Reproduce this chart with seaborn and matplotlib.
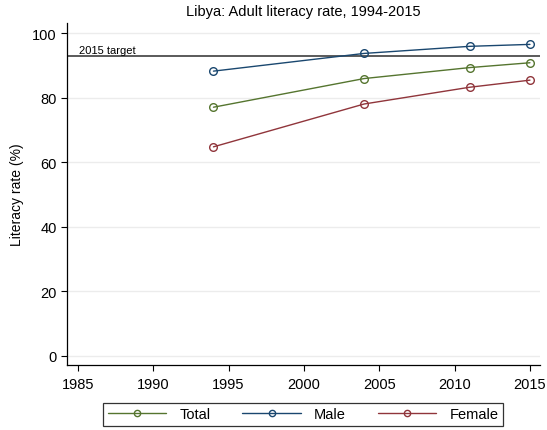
import pandas as pd
import matplotlib
matplotlib.use("Agg")
import matplotlib.pyplot as plt
import seaborn as sns

years = [1994, 2004, 2011, 2015]
total = [77.1, 86.0, 89.4, 90.9]
male = [88.3, 93.8, 96.0, 96.6]
female = [64.8, 78.1, 83.3, 85.5]
series = ["Total", "Male", "Female"]
colors = ["#55752f", "#1a476f", "#90353b"]
target = 93.0

df = pd.DataFrame({
    "year": years * 3,
    "rate": total + male + female,
    "group": ["Total"] * 4 + ["Male"] * 4 + ["Female"] * 4,
})

sns.set_style("white")
plt.rcParams["font.family"] = ["Liberation Sans", "DejaVu Sans"]
plt.rcParams["text.color"] = "black"
plt.rcParams["axes.labelcolor"] = "black"
plt.rcParams["xtick.color"] = "black"
plt.rcParams["ytick.color"] = "black"

fig = plt.figure(figsize=(5.47, 4.31), dpi=100)
ax = fig.add_axes([0.123, 0.151, 0.864, 0.793])

ax.axhline(target, color="#5a5a5a", lw=1.4, zorder=1)
ax.text(1985.1, target + 0.4, "2015 target", fontsize=8, va="bottom", ha="left")

sns.lineplot(data=df, x="year", y="rate", hue="group", hue_order=series,
             palette=colors, marker="o", markersize=5.5, lw=1, ax=ax, zorder=3)

for line in ax.lines[1:]:
    line.set_markerfacecolor("none")
    line.set_markeredgecolor(line.get_color())
    line.set_markeredgewidth(1)

handles, labels = ax.get_legend_handles_labels()
for h in handles:
    h.set_markerfacecolor("none")
    h.set_markeredgecolor(h.get_color())
    h.set_markeredgewidth(1)
    h.set_markersize(4.5)
    h.set_linewidth(1)
ax.get_legend().remove()
leg = fig.legend(handles, labels, loc="center", bbox_to_anchor=(0.554, 0.036), ncol=3,
                 frameon=True, fancybox=False, edgecolor="black", fontsize=10.5,
                 handlelength=4.0, columnspacing=2.2, handletextpad=0.9,
                 borderpad=0.3, borderaxespad=0.0)
leg.get_frame().set_linewidth(0.9)

ax.set_xlim(1984.3, 2015.66)
ax.set_ylim(-2.9, 103.2)
ax.set_xticks(range(1985, 2016, 5))
ax.set_yticks(range(0, 101, 20))
ax.yaxis.grid(True, color="#ececec", lw=1)
ax.xaxis.grid(False)
ax.tick_params(axis="both", direction="out", length=4.5, width=0.8, color="black",
               labelsize=10.5, left=True, bottom=True)
ax.tick_params(axis="y", pad=3)
ax.tick_params(axis="x", pad=4)
sns.despine(ax=ax)
for s in ["left", "bottom"]:
    ax.spines[s].set_color("black")
    ax.spines[s].set_linewidth(0.9)

ax.set_title("Libya: Adult literacy rate, 1994-2015", fontsize=10.5, pad=6)
ax.set_xlabel("")
ax.set_ylabel("Literacy rate (%)", fontsize=10, labelpad=6)

fig.savefig("out.png", dpi=100)
